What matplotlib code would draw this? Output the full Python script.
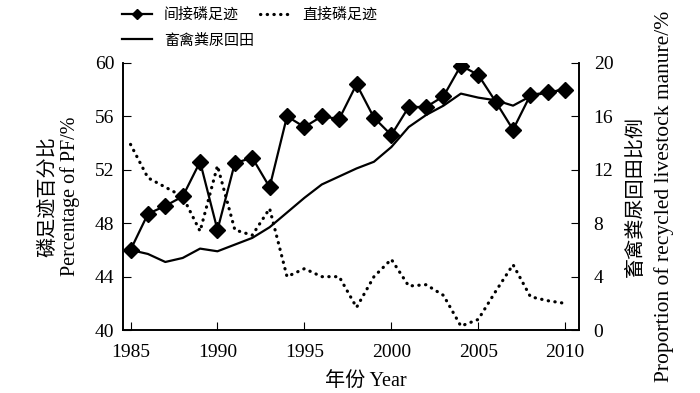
import matplotlib
matplotlib.use("Agg")
import matplotlib.pyplot as plt

serif_cjk = ['Liberation Serif', 'Noto Sans CJK SC']
plt.rcParams['font.family'] = serif_cjk

years = list(range(1985, 2011))
indirect_pf = [46.0, 48.7, 49.3, 50.0, 52.6, 47.5, 52.5, 52.9, 50.7, 56.0,
               55.2, 56.0, 55.8, 58.4, 55.9, 54.6, 56.7, 56.7, 57.5, 59.8,
               59.1, 57.1, 55.0, 57.6, 57.8, 58.0]
direct_pf = [53.9, 51.4, 50.7, 50.0, 47.4, 52.3, 47.5, 47.1, 49.1, 44.0,
             44.6, 44.0, 44.0, 41.7, 44.0, 45.3, 43.3, 43.4, 42.6, 40.3,
             40.8, 42.9, 44.9, 42.5, 42.2, 42.0]
manure_recycled = [6.0, 5.7, 5.1, 5.4, 6.1, 5.9, 6.4, 6.9, 7.7, 8.8,
                   9.9, 10.9, 11.5, 12.1, 12.6, 13.7, 15.2, 16.1, 16.8, 17.7,
                   17.4, 17.2, 16.8, 17.5, 17.8, 18.0]

xticks = [1985, 1990, 1995, 2000, 2005, 2010]
left_ticks = [40, 44, 48, 52, 56, 60]
right_ticks = [0, 4, 8, 12, 16, 20]

fig = plt.figure(figsize=(7, 3.93), dpi=100)
ax = fig.add_axes([0.1753, 0.160, 0.652, 0.680])
ax2 = ax.twinx()

l1, = ax.plot(years, indirect_pf, color='black', lw=1.6, marker='D',
              markersize=8, label='间接磷足迹')
l2, = ax.plot(years, direct_pf, color='black', lw=2.3,
              linestyle=(0, (0.1, 2.0)), dash_capstyle='round',
              label='直接磷足迹')
l3, = ax2.plot(years, manure_recycled, color='black', lw=1.6,
               label='畜禽粪尿回田')

ax.set_xlim(1984.55, 2010.8)
ax.set_ylim(40, 60)
ax2.set_ylim(0, 20)
ax.set_xticks(xticks)
ax.set_xticklabels([str(t) for t in xticks], family='Liberation Serif', fontsize=14)
ax.set_yticks(left_ticks)
ax.set_yticklabels([str(t) for t in left_ticks], family='Liberation Serif', fontsize=14)
ax2.set_yticks(right_ticks)
ax2.set_yticklabels([str(t) for t in right_ticks], family='Liberation Serif', fontsize=14)

for a in (ax, ax2):
    a.spines['top'].set_visible(False)
    for s in a.spines.values():
        s.set_linewidth(1.2)
ax.tick_params(axis='x', direction='in', length=6, width=0.8, pad=10)
ax.tick_params(axis='y', direction='in', length=6, width=0.8, pad=6)
ax2.tick_params(axis='y', direction='in', length=6, width=0.8, pad=10.5)

fig.text(0.068, 0.5, '磷足迹百分比', rotation=90, ha='center', va='center',
         fontsize=14.5, family=['Noto Sans CJK SC'])
fig.text(0.1, 0.5, 'Percentage of PF/%', rotation=90, ha='center',
         va='center', fontsize=14.5, family='Liberation Serif')
fig.text(0.907, 0.5, '畜禽粪尿回田比例', rotation=90, ha='center', va='center',
         fontsize=14.5, family=['Noto Sans CJK SC'])
fig.text(0.948, 0.50, 'Proportion of recycled livestock manure/%', rotation=90,
         ha='center', va='center', fontsize=15.5, family='Liberation Serif')
fig.text(0.523, 0.03, '年份 Year', ha='center', va='center', fontsize=14.5,
         family=serif_cjk)

fig.legend([l1, l3, l2], ['间接磷足迹', '畜禽粪尿回田', '直接磷足迹'],
           loc='upper left', bbox_to_anchor=(0.155, 1.015), ncol=2,
           frameon=False, handlelength=2.0, labelspacing=0.78,
           columnspacing=0.4, handletextpad=0.8, markerscale=0.7,
           prop={'family': ['Noto Sans CJK SC'], 'size': 10.8})

fig.savefig('out.png', dpi=100)
